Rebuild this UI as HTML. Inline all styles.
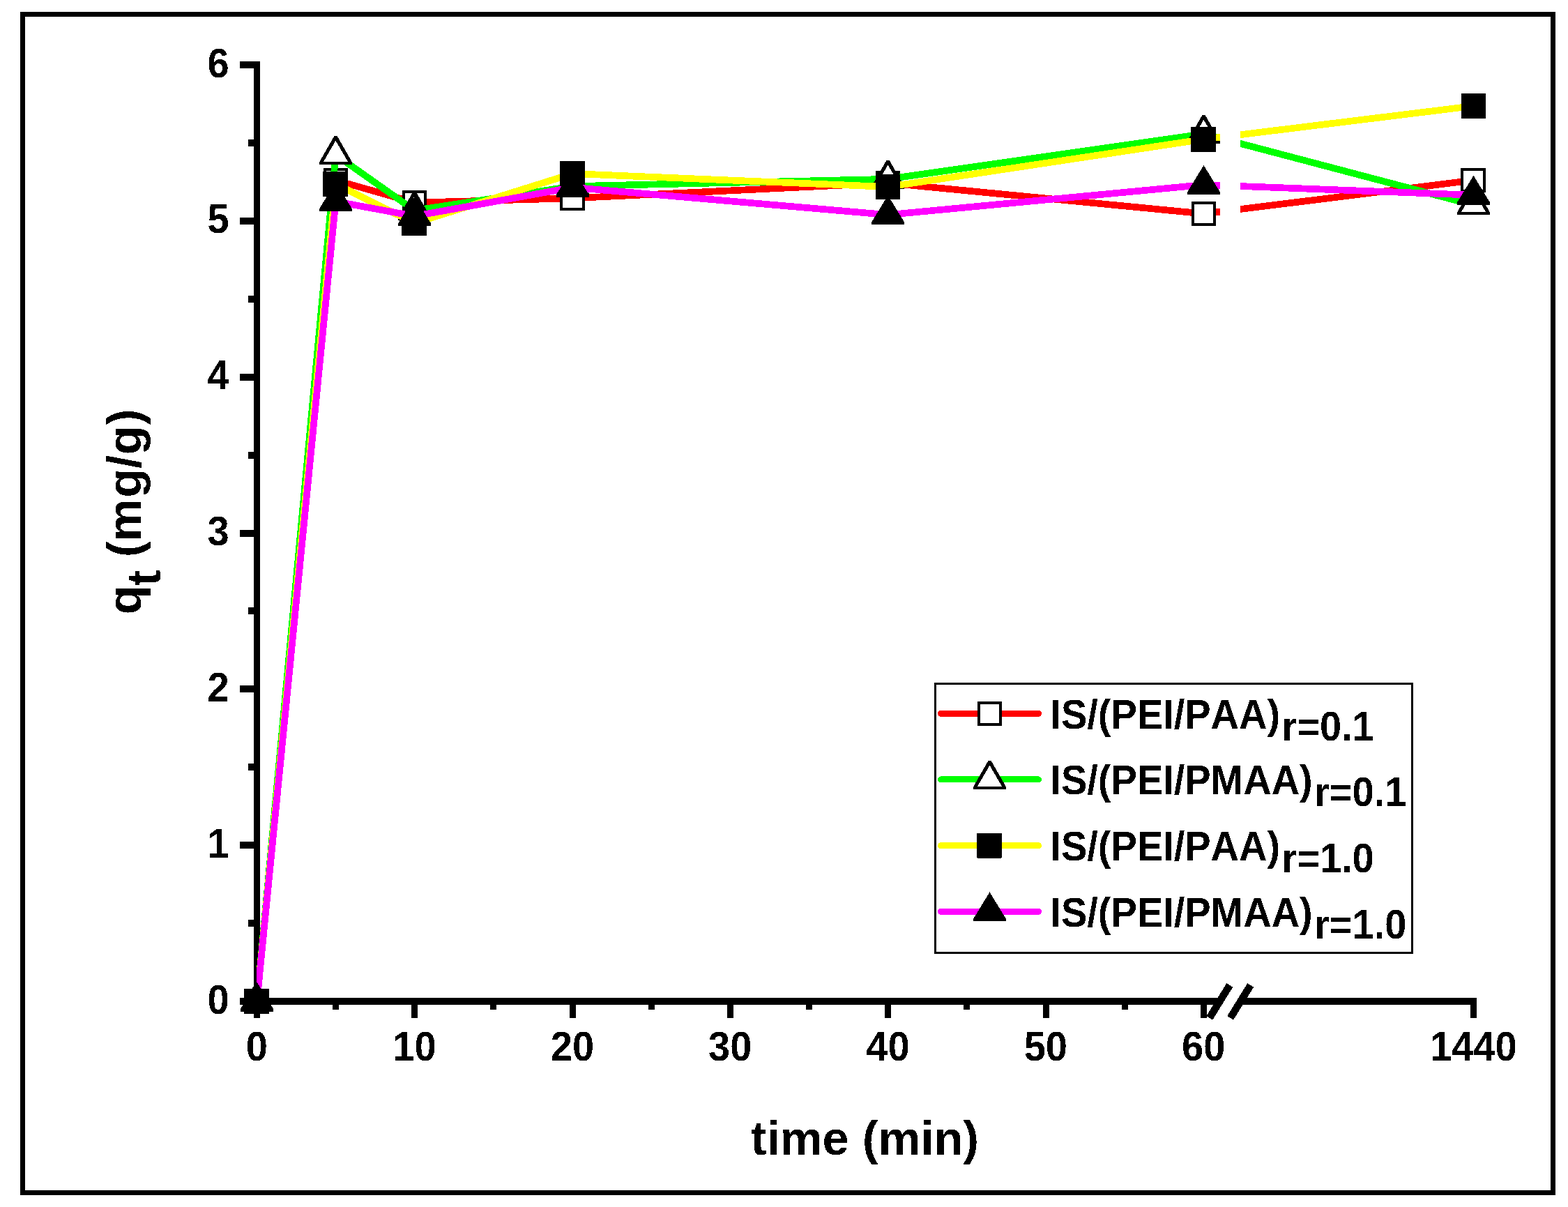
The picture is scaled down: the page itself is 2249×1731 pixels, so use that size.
<!DOCTYPE html>
<html lang="en"><head><meta charset="utf-8"><title>Adsorption kinetics</title>
<style>
html,body{margin:0;padding:0;background:#fff;}
body{width:2249px;height:1731px;overflow:hidden;}
svg{display:block;}
text{font-family:"Liberation Sans",sans-serif;font-weight:bold;fill:#000;font-kerning:none;filter:url(#hard);}
</style></head><body>
<svg width="2249" height="1731" viewBox="0 0 2249 1731" shape-rendering="crispEdges">
<rect x="0" y="0" width="2249" height="1731" fill="#fff"/>
<defs><clipPath id="plotclip"><rect x="368" y="0" width="1382.0" height="1731"/><rect x="1779.0" y="0" width="470.0" height="1731"/></clipPath><filter id="hard" x="-5%" y="-5%" width="110%" height="110%" color-interpolation-filters="sRGB"><feComponentTransfer><feFuncA type="discrete" tableValues="0 1"/></feComponentTransfer></filter></defs>
<!-- page frame -->
<rect x="32.5" y="20.5" width="2195" height="1690" fill="none" stroke="#000" stroke-width="7"/>
<!-- axes -->
<g fill="#000" shape-rendering="crispEdges">
<rect x="364" y="88" width="9" height="1353"/>
<rect x="364" y="1431" width="1386.0" height="10"/>
<rect x="1779.0" y="1431" width="339.0" height="10"/>
<rect x="344" y="1431" width="24" height="10"/>
<rect x="356" y="1319" width="12" height="10"/>
<rect x="344" y="1207" width="24" height="10"/>
<rect x="356" y="1095" width="12" height="10"/>
<rect x="344" y="983" width="24" height="10"/>
<rect x="356" y="871" width="12" height="10"/>
<rect x="344" y="760" width="24" height="10"/>
<rect x="356" y="648" width="12" height="10"/>
<rect x="344" y="536" width="24" height="10"/>
<rect x="356" y="424" width="12" height="10"/>
<rect x="344" y="312" width="24" height="10"/>
<rect x="356" y="200" width="12" height="10"/>
<rect x="344" y="88" width="24" height="10"/>
<rect x="364" y="1436" width="9" height="24"/>
<rect x="477" y="1436" width="9" height="12"/>
<rect x="590" y="1436" width="9" height="24"/>
<rect x="703" y="1436" width="9" height="12"/>
<rect x="817" y="1436" width="9" height="24"/>
<rect x="930" y="1436" width="9" height="12"/>
<rect x="1043" y="1436" width="9" height="24"/>
<rect x="1156" y="1436" width="9" height="12"/>
<rect x="1269" y="1436" width="9" height="24"/>
<rect x="1382" y="1436" width="9" height="12"/>
<rect x="1496" y="1436" width="9" height="24"/>
<rect x="1609" y="1436" width="9" height="12"/>
<rect x="1722" y="1436" width="9" height="24"/>
<rect x="2109" y="1436" width="9" height="24"/>
</g>
<g stroke="#000" stroke-width="10.5" stroke-linecap="butt">
<line x1="1734.8" y1="1459.9" x2="1763.8" y2="1412.9"/>
<line x1="1764.7" y1="1459.9" x2="1793.7" y2="1412.9"/>
</g>
<!-- tick labels -->
<text transform="translate(313.0 1453.5) scale(1 1.06)" font-size="56" text-anchor="middle">0</text>
<text transform="translate(313.0 1229.7) scale(1 1.06)" font-size="56" text-anchor="middle">1</text>
<text transform="translate(313.0 1005.8) scale(1 1.06)" font-size="56" text-anchor="middle">2</text>
<text transform="translate(313.0 782.0) scale(1 1.06)" font-size="56" text-anchor="middle">3</text>
<text transform="translate(313.0 558.2) scale(1 1.06)" font-size="56" text-anchor="middle">4</text>
<text transform="translate(313.0 334.3) scale(1 1.06)" font-size="56" text-anchor="middle">5</text>
<text transform="translate(313.0 110.5) scale(1 1.06)" font-size="56" text-anchor="middle">6</text>
<text transform="translate(368.2 1521.0) scale(1 1.06)" font-size="56" text-anchor="middle">0</text>
<text transform="translate(594.5 1521.0) scale(1 1.06)" font-size="56" text-anchor="middle">10</text>
<text transform="translate(820.9 1521.0) scale(1 1.06)" font-size="56" text-anchor="middle">20</text>
<text transform="translate(1047.2 1521.0) scale(1 1.06)" font-size="56" text-anchor="middle">30</text>
<text transform="translate(1273.5 1521.0) scale(1 1.06)" font-size="56" text-anchor="middle">40</text>
<text transform="translate(1499.8 1521.0) scale(1 1.06)" font-size="56" text-anchor="middle">50</text>
<text transform="translate(1726.2 1521.0) scale(1 1.06)" font-size="56" text-anchor="middle">60</text>
<text transform="translate(2113.3 1521.0) scale(1 1.06)" font-size="56" text-anchor="middle">1440</text>
<!-- axis titles -->
<text x="1240.5" y="1655.5" font-size="68.5" text-anchor="middle">time (min)</text>
<text transform="translate(202 881.4) rotate(-90)" font-size="68.5">q<tspan dy="28" dx="-0.9">t</tspan><tspan dy="-28" dx="0 -0.5 0 1.8 -0.3 0.5 1.3"> (mg/g)</tspan></text>
<!-- data series -->
<polyline points="368.5,1436.0 481.5,258.5 594.6,290.6 821.3,284.3 1273.6,262.5 1726.5,306.5 2113.5,258.5" fill="none" stroke="#ff0000" stroke-width="9.7" stroke-linejoin="round" stroke-linecap="butt" clip-path="url(#plotclip)"/>
<rect x="353.0" y="1420.5" width="31" height="31" fill="#fff" stroke="#000" stroke-width="4"/>
<rect x="466.0" y="243.0" width="31" height="31" fill="#fff" stroke="#000" stroke-width="4"/>
<rect x="579.1" y="275.1" width="31" height="31" fill="#fff" stroke="#000" stroke-width="4"/>
<rect x="804.8" y="268.8" width="32" height="31" fill="#fff" stroke="#000" stroke-width="4"/>
<rect x="1258.1" y="247.0" width="31" height="31" fill="#fff" stroke="#000" stroke-width="4"/>
<rect x="1711.0" y="291.0" width="31" height="31" fill="#fff" stroke="#000" stroke-width="4"/>
<rect x="2097.0" y="243.0" width="32" height="31" fill="#fff" stroke="#000" stroke-width="4"/>
<polyline points="368.5,1436.5 481.5,222.0 594.6,301.8 821.3,267.1 1273.6,256.8 1726.5,192.0 2113.5,294.0" fill="none" stroke="#00ff00" stroke-width="9.7" stroke-linejoin="round" stroke-linecap="butt" clip-path="url(#plotclip)"/>
<polygon points="366.5,1409.5 370.5,1409.5 392.0,1447.0 392.0,1450.5 345.0,1450.5 345.0,1447.0" fill="#000"/><polygon points="368.5,1416.3 386.1,1446.5 350.9,1446.5" fill="#fff"/>
<polygon points="479.5,195.0 483.5,195.0 505.0,232.5 505.0,236.0 458.0,236.0 458.0,232.5" fill="#000"/><polygon points="481.5,201.8 499.1,232.0 463.9,232.0" fill="#fff"/>
<polygon points="592.6,274.8 596.6,274.8 618.1,312.3 618.1,315.8 571.1,315.8 571.1,312.3" fill="#000"/><polygon points="594.6,281.6 612.2,311.8 577.0,311.8" fill="#fff"/>
<polygon points="819.3,240.1 823.3,240.1 844.8,277.6 844.8,281.1 797.8,281.1 797.8,277.6" fill="#000"/><polygon points="821.3,246.9 838.9,277.1 803.7,277.1" fill="#fff"/>
<polygon points="1271.6,229.8 1275.6,229.8 1297.1,267.3 1297.1,270.8 1250.1,270.8 1250.1,267.3" fill="#000"/><polygon points="1273.6,236.6 1291.2,266.8 1256.0,266.8" fill="#fff"/>
<polygon points="1724.5,165.0 1728.5,165.0 1750.0,202.5 1750.0,206.0 1703.0,206.0 1703.0,202.5" fill="#000"/><polygon points="1726.5,171.8 1744.1,202.0 1708.9,202.0" fill="#fff"/>
<polygon points="2111.5,267.0 2115.5,267.0 2137.0,304.5 2137.0,308.0 2090.0,308.0 2090.0,304.5" fill="#000"/><polygon points="2113.5,273.8 2131.1,304.0 2095.9,304.0" fill="#fff"/>
<polyline points="368.5,1436.0 481.5,264.0 594.6,320.0 821.3,249.0 1273.6,268.0 1726.5,199.7 2113.5,152.0" fill="none" stroke="#ffff00" stroke-width="9.7" stroke-linejoin="round" stroke-linecap="butt" clip-path="url(#plotclip)"/>
<rect x="350.0" y="1418.0" width="36" height="36" rx="1" fill="#000"/>
<rect x="463.0" y="246.0" width="36" height="36" rx="1" fill="#000"/>
<rect x="576.1" y="302.0" width="36" height="36" rx="1" fill="#000"/>
<rect x="802.8" y="231.0" width="36" height="36" rx="1" fill="#000"/>
<rect x="1256.1" y="250.0" width="35" height="36" rx="1" fill="#000"/>
<rect x="1708.0" y="181.7" width="36" height="36" rx="1" fill="#000"/>
<rect x="2096.0" y="134.0" width="35" height="36" rx="1" fill="#000"/>
<polyline points="368.5,1436.5 481.5,289.0 594.6,309.9 821.3,268.8 1273.6,308.1 1726.5,265.0 2113.5,279.8" fill="none" stroke="#ff00ff" stroke-width="9.7" stroke-linejoin="round" stroke-linecap="butt" clip-path="url(#plotclip)"/>
<polygon points="368.5,1408.5 392.0,1447.0 392.0,1450.5 345.0,1450.5 345.0,1447.0" fill="#000"/>
<polygon points="481.5,261.0 505.0,299.5 505.0,303.0 458.0,303.0 458.0,299.5" fill="#000"/>
<polygon points="594.6,281.9 618.1,320.4 618.1,323.9 571.1,323.9 571.1,320.4" fill="#000"/>
<polygon points="821.3,240.8 844.8,279.3 844.8,282.8 797.8,282.8 797.8,279.3" fill="#000"/>
<polygon points="1273.6,280.1 1297.1,318.6 1297.1,322.1 1250.1,322.1 1250.1,318.6" fill="#000"/>
<polygon points="1726.5,237.0 1750.0,275.5 1750.0,279.0 1703.0,279.0 1703.0,275.5" fill="#000"/>
<polygon points="2113.5,251.8 2137.0,290.3 2137.0,293.8 2090.0,293.8 2090.0,290.3" fill="#000"/>
<!-- legend -->
<rect x="1341.5" y="980.2" width="684" height="386.3" fill="#fff" stroke="#000" stroke-width="3"/>
<line x1="1349.5" y1="1023.4" x2="1489.5" y2="1023.4" stroke="#ff0000" stroke-width="9" stroke-linecap="round"/>
<rect x="1404.0" y="1007.9" width="31" height="31" fill="#fff" stroke="#000" stroke-width="4"/>
<text transform="translate(1506.4 1044.8) scale(1 1.06)" font-size="56" text-anchor="start">IS/(PEI/PAA)<tspan dx="2.3" dy="16.04">r=0.1</tspan></text>
<line x1="1349.5" y1="1117.9" x2="1489.5" y2="1117.9" stroke="#00ff00" stroke-width="9" stroke-linecap="round"/>
<polygon points="1417.5,1090.9 1421.5,1090.9 1443.0,1128.4 1443.0,1131.9 1396.0,1131.9 1396.0,1128.4" fill="#000"/><polygon points="1419.5,1097.7 1437.1,1127.9 1401.9,1127.9" fill="#fff"/>
<text transform="translate(1506.4 1139.3) scale(1 1.06)" font-size="56" text-anchor="start">IS/(PEI/PMAA)<tspan dx="2.3" dy="16.04">r=0.1</tspan></text>
<line x1="1349.5" y1="1212.6" x2="1489.5" y2="1212.6" stroke="#ffff00" stroke-width="9" stroke-linecap="round"/>
<rect x="1401.0" y="1194.6" width="36" height="36" rx="1" fill="#000"/>
<text transform="translate(1506.4 1234.0) scale(1 1.06)" font-size="56" text-anchor="start">IS/(PEI/PAA)<tspan dx="2.3" dy="16.04">r=1.0</tspan></text>
<line x1="1349.5" y1="1307.4" x2="1489.5" y2="1307.4" stroke="#ff00ff" stroke-width="9" stroke-linecap="round"/>
<polygon points="1419.5,1279.4 1443.0,1317.9 1443.0,1321.4 1396.0,1321.4 1396.0,1317.9" fill="#000"/>
<text transform="translate(1506.4 1328.8) scale(1 1.06)" font-size="56" text-anchor="start">IS/(PEI/PMAA)<tspan dx="2.3" dy="16.04">r=1.0</tspan></text>
</svg>
</body></html>
